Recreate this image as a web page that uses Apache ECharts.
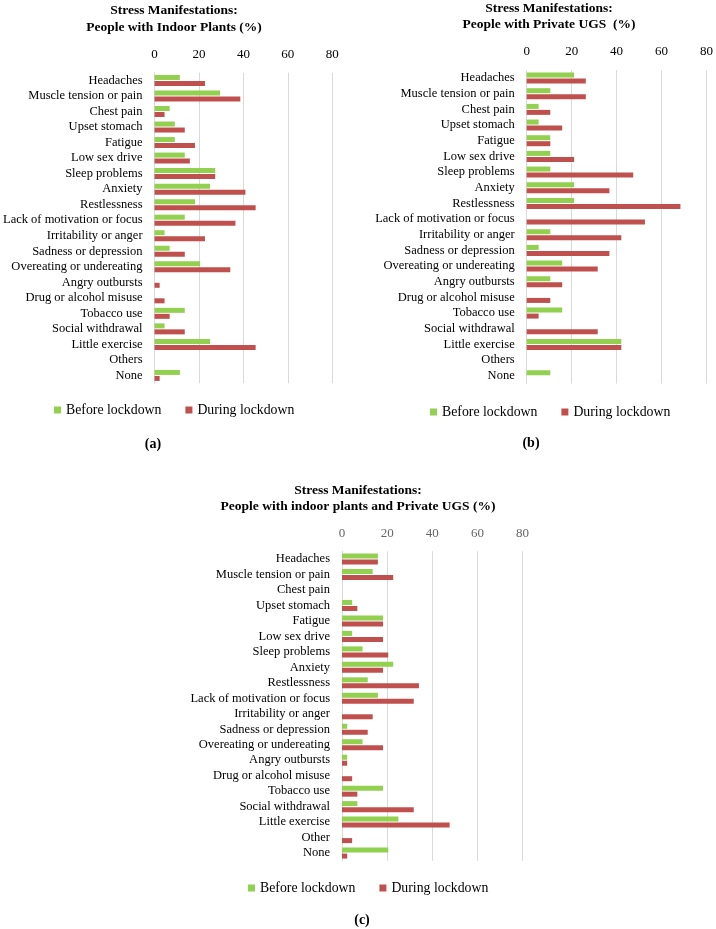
<!DOCTYPE html>
<html><head><meta charset="utf-8">
<script src="https://cdn.jsdelivr.net/npm/echarts@6/dist/echarts.min.js"></script>
<style>html,body{margin:0;padding:0;background:#fff}#c{width:716px;height:929px}</style>
</head><body><div id="c"></div>
<script>
const categoriesAB = ["Headaches","Muscle tension or pain","Chest pain","Upset stomach","Fatigue","Low sex drive","Sleep problems","Anxiety","Restlessness","Lack of motivation or focus","Irritability or anger","Sadness or depression","Overeating or undereating","Angry outbursts","Drug or alcohol misuse","Tobacco use","Social withdrawal","Little exercise","Others","None"];
const categoriesC = ["Headaches","Muscle tension or pain","Chest pain","Upset stomach","Fatigue","Low sex drive","Sleep problems","Anxiety","Restlessness","Lack of motivation or focus","Irritability or anger","Sadness or depression","Overeating or undereating","Angry outbursts","Drug or alcohol misuse","Tobacco use","Social withdrawal","Little exercise","Other","None"];
const seriesNames = ["Before lockdown","During lockdown"];
const tickValues = [0,20,40,60,80];

const indoorBefore = [11.4,29.5,6.8,9.1,9.1,13.6,27.3,25.0,18.2,13.6,4.5,6.8,20.5,0,0,13.6,4.5,25.0,0,11.4];
const indoorDuring = [22.7,38.6,4.5,13.6,18.2,15.9,27.3,40.9,45.5,36.4,22.7,13.6,34.1,2.3,4.5,6.8,13.6,45.5,0,2.3];

const ugsBefore = [21.1,10.5,5.3,5.3,10.5,10.5,10.5,21.1,21.1,0,10.5,5.3,15.8,10.5,0,15.8,0,42.1,0,10.5];
const ugsDuring = [26.3,26.3,10.5,15.8,10.5,21.1,47.4,36.8,68.4,52.6,42.1,36.8,31.6,15.8,10.5,5.3,31.6,42.1,0,0];

const bothBefore = [15.9,13.6,0,4.5,18.2,4.5,9.1,22.7,11.4,15.9,0,2.3,9.1,2.3,0,18.2,6.8,25.0,0,20.5];
const bothDuring = [15.9,22.7,0,6.8,18.2,18.2,20.5,18.2,34.1,31.8,13.6,11.4,18.2,2.3,4.5,6.8,31.8,47.7,4.5,2.3];

const GREEN = '#92D050', RED = '#C0504D';
const SERIF = '"Liberation Serif", "DejaVu Serif", serif';

const panels = [
  {grid:{left:151.7, top:72.7, width:180.6, height:310.5}, cats:categoriesAB, b:indoorBefore, d:indoorDuring, tickColor:'#000', margin:12},
  {grid:{left:526.7, top:70.2, width:181.6, height:313.4}, cats:categoriesAB, b:ugsBefore, d:ugsDuring, tickColor:'#000', margin:12.5},
  {grid:{left:342.0, top:551.3, width:180.5, height:309.5}, cats:categoriesC, b:bothBefore, d:bothDuring, tickColor:'#666', margin:11}
];

const grid = [], xAxis = [], yAxis = [], series = [];
panels.forEach((p,i)=>{
  grid.push(Object.assign({containLabel:false}, p.grid));
  xAxis.push({type:'value', gridIndex:i, position:'top', min:tickValues[0], max:tickValues[tickValues.length-1], interval:tickValues[1]-tickValues[0],
    axisLine:{show:false}, axisTick:{show:false},
    splitLine:{show:true, lineStyle:{color:'#d9d9d9', width:1}},
    axisLabel:{color:p.tickColor, fontFamily:SERIF, fontSize:13, margin:p.margin}});
  yAxis.push({type:'category', gridIndex:i, inverse:true, data:p.cats,
    axisLine:{show:true, lineStyle:{color:'#d9d9d9'}}, axisTick:{show:false},
    axisLabel:{color:'#000', fontFamily:SERIF, fontSize:12.5, margin:12, interval:0}});
  series.push({name:seriesNames[0], type:'bar', xAxisIndex:i, yAxisIndex:i, data:p.b, itemStyle:{color:GREEN}, barWidth:5, barGap:'20%', silent:true});
  series.push({name:seriesNames[1], type:'bar', xAxisIndex:i, yAxisIndex:i, data:p.d, itemStyle:{color:RED}, barWidth:5, barGap:'20%', silent:true});
});

const legendBase = {data:seriesNames, icon:'rect', itemWidth:7, itemHeight:7, itemGap:24, orient:'horizontal', padding:0,
  textStyle:{fontFamily:SERIF, fontSize:13.8, color:'#000'}, selectedMode:false};
const legend = [
  Object.assign({}, legendBase, {left:54, top:403}),
  Object.assign({}, legendBase, {left:430, top:405}),
  Object.assign({}, legendBase, {left:248, top:881})
];

function txt(x,y,s,size,bold){
  return {type:'text', x:x, y:y, style:{text:s, font:(bold?'bold ':'')+size+'px '+SERIF, textAlign:'center', textVerticalAlign:'middle', fill:'#000'}};
}
const graphic = [
  txt(174,10.7,'Stress Manifestations:',13.5,true),
  txt(174,27.3,'People with Indoor Plants (%)',13.5,true),
  txt(549,9,'Stress Manifestations:',13.5,true),
  txt(549,25,'People with Private UGS  (%)',13.5,true),
  txt(358,491,'Stress Manifestations:',13.5,true),
  txt(358,507,'People with indoor plants and Private UGS (%)',13.5,true),
  txt(153,444,'(a)',14,true),
  txt(531,443,'(b)',14,true),
  txt(362,920,'(c)',14,true)
];

const chart = echarts.init(document.getElementById('c'), null, {renderer:'canvas'});
chart.setOption({animation:false, backgroundColor:'#fff', grid, xAxis, yAxis, series, legend, graphic});
</script></body></html>
